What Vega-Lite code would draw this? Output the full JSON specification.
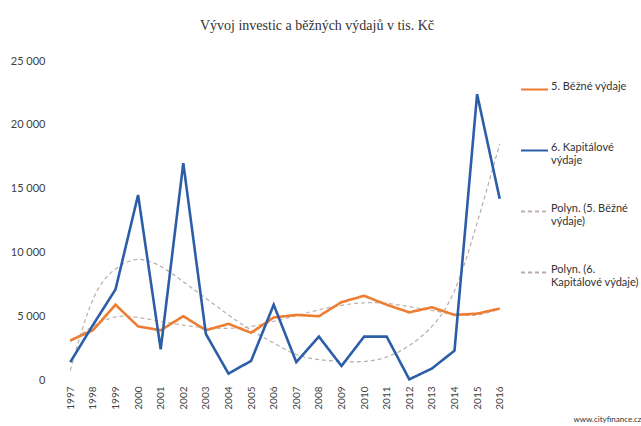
{
  "$schema": "https://vega.github.io/schema/vega-lite/v6.json",
  "width": 452,
  "height": 319,
  "autosize": {"type": "none"},
  "padding": {"left": 59, "top": 61, "right": 130, "bottom": 46},
  "background": "white",
  "config": {"view": {"stroke": null}, "font": "Lato"},
  "title": {
    "text": "Vývoj investic a běžných výdajů v tis. Kč",
    "font": "Liberation Serif",
    "fontSize": 14,
    "fontWeight": "normal",
    "color": "#333333",
    "anchor": "middle",
    "dx": 32,
    "offset": 22
  },
  "data": {
    "values": [
      {"year": 1997, "series": "5. Běžné výdaje", "value": 3100},
      {"year": 1998, "series": "5. Běžné výdaje", "value": 3900},
      {"year": 1999, "series": "5. Běžné výdaje", "value": 5900},
      {"year": 2000, "series": "5. Běžné výdaje", "value": 4200},
      {"year": 2001, "series": "5. Běžné výdaje", "value": 3900},
      {"year": 2002, "series": "5. Běžné výdaje", "value": 5000},
      {"year": 2003, "series": "5. Běžné výdaje", "value": 3900},
      {"year": 2004, "series": "5. Běžné výdaje", "value": 4400},
      {"year": 2005, "series": "5. Běžné výdaje", "value": 3700},
      {"year": 2006, "series": "5. Běžné výdaje", "value": 4900},
      {"year": 2007, "series": "5. Běžné výdaje", "value": 5100},
      {"year": 2008, "series": "5. Běžné výdaje", "value": 5000},
      {"year": 2009, "series": "5. Běžné výdaje", "value": 6100},
      {"year": 2010, "series": "5. Běžné výdaje", "value": 6600},
      {"year": 2011, "series": "5. Běžné výdaje", "value": 5900},
      {"year": 2012, "series": "5. Běžné výdaje", "value": 5300},
      {"year": 2013, "series": "5. Běžné výdaje", "value": 5700},
      {"year": 2014, "series": "5. Běžné výdaje", "value": 5100},
      {"year": 2015, "series": "5. Běžné výdaje", "value": 5200},
      {"year": 2016, "series": "5. Běžné výdaje", "value": 5600},
      {"year": 1997, "series": "6. Kapitálové výdaje", "value": 1400},
      {"year": 1998, "series": "6. Kapitálové výdaje", "value": 4300},
      {"year": 1999, "series": "6. Kapitálové výdaje", "value": 7100},
      {"year": 2000, "series": "6. Kapitálové výdaje", "value": 14500},
      {"year": 2001, "series": "6. Kapitálové výdaje", "value": 2400},
      {"year": 2002, "series": "6. Kapitálové výdaje", "value": 17000},
      {"year": 2003, "series": "6. Kapitálové výdaje", "value": 3600},
      {"year": 2004, "series": "6. Kapitálové výdaje", "value": 500},
      {"year": 2005, "series": "6. Kapitálové výdaje", "value": 1500},
      {"year": 2006, "series": "6. Kapitálové výdaje", "value": 5900},
      {"year": 2007, "series": "6. Kapitálové výdaje", "value": 1400},
      {"year": 2008, "series": "6. Kapitálové výdaje", "value": 3400},
      {"year": 2009, "series": "6. Kapitálové výdaje", "value": 1100},
      {"year": 2010, "series": "6. Kapitálové výdaje", "value": 3400},
      {"year": 2011, "series": "6. Kapitálové výdaje", "value": 3400},
      {"year": 2012, "series": "6. Kapitálové výdaje", "value": 50},
      {"year": 2013, "series": "6. Kapitálové výdaje", "value": 900},
      {"year": 2014, "series": "6. Kapitálové výdaje", "value": 2300},
      {"year": 2015, "series": "6. Kapitálové výdaje", "value": 22400},
      {"year": 2016, "series": "6. Kapitálové výdaje", "value": 14200},
      {"year": 1997, "series": "Polyn. (5. Běžné výdaje)", "value": 3000},
      {"year": 1998, "series": "Polyn. (5. Běžné výdaje)", "value": 4200},
      {"year": 1999, "series": "Polyn. (5. Běžné výdaje)", "value": 4950},
      {"year": 2000, "series": "Polyn. (5. Běžné výdaje)", "value": 4900},
      {"year": 2001, "series": "Polyn. (5. Běžné výdaje)", "value": 4600},
      {"year": 2002, "series": "Polyn. (5. Běžné výdaje)", "value": 4300},
      {"year": 2003, "series": "Polyn. (5. Běžné výdaje)", "value": 4100},
      {"year": 2004, "series": "Polyn. (5. Běžné výdaje)", "value": 4050},
      {"year": 2005, "series": "Polyn. (5. Běžné výdaje)", "value": 4200},
      {"year": 2006, "series": "Polyn. (5. Běžné výdaje)", "value": 4600},
      {"year": 2007, "series": "Polyn. (5. Běžné výdaje)", "value": 5050},
      {"year": 2008, "series": "Polyn. (5. Běžné výdaje)", "value": 5500},
      {"year": 2009, "series": "Polyn. (5. Běžné výdaje)", "value": 5850},
      {"year": 2010, "series": "Polyn. (5. Běžné výdaje)", "value": 6050},
      {"year": 2011, "series": "Polyn. (5. Běžné výdaje)", "value": 6000},
      {"year": 2012, "series": "Polyn. (5. Běžné výdaje)", "value": 5750},
      {"year": 2013, "series": "Polyn. (5. Běžné výdaje)", "value": 5450},
      {"year": 2014, "series": "Polyn. (5. Běžné výdaje)", "value": 5150},
      {"year": 2015, "series": "Polyn. (5. Běžné výdaje)", "value": 5100},
      {"year": 2016, "series": "Polyn. (5. Běžné výdaje)", "value": 5550},
      {"year": 1997, "series": "Polyn. (6. Kapitálové výdaje)", "value": 750},
      {"year": 1998, "series": "Polyn. (6. Kapitálové výdaje)", "value": 6300},
      {"year": 1999, "series": "Polyn. (6. Kapitálové výdaje)", "value": 8700},
      {"year": 2000, "series": "Polyn. (6. Kapitálové výdaje)", "value": 9450},
      {"year": 2001, "series": "Polyn. (6. Kapitálové výdaje)", "value": 8900},
      {"year": 2002, "series": "Polyn. (6. Kapitálové výdaje)", "value": 7700},
      {"year": 2003, "series": "Polyn. (6. Kapitálové výdaje)", "value": 6400},
      {"year": 2004, "series": "Polyn. (6. Kapitálové výdaje)", "value": 5100},
      {"year": 2005, "series": "Polyn. (6. Kapitálové výdaje)", "value": 3900},
      {"year": 2006, "series": "Polyn. (6. Kapitálové výdaje)", "value": 2900},
      {"year": 2007, "series": "Polyn. (6. Kapitálové výdaje)", "value": 2000},
      {"year": 2008, "series": "Polyn. (6. Kapitálové výdaje)", "value": 1600},
      {"year": 2009, "series": "Polyn. (6. Kapitálové výdaje)", "value": 1450},
      {"year": 2010, "series": "Polyn. (6. Kapitálové výdaje)", "value": 1450},
      {"year": 2011, "series": "Polyn. (6. Kapitálové výdaje)", "value": 1800},
      {"year": 2012, "series": "Polyn. (6. Kapitálové výdaje)", "value": 2700},
      {"year": 2013, "series": "Polyn. (6. Kapitálové výdaje)", "value": 4200},
      {"year": 2014, "series": "Polyn. (6. Kapitálové výdaje)", "value": 7000},
      {"year": 2015, "series": "Polyn. (6. Kapitálové výdaje)", "value": 12300},
      {"year": 2016, "series": "Polyn. (6. Kapitálové výdaje)", "value": 18500}
    ]
  },
  "encoding": {
    "x": {
      "field": "year",
      "type": "ordinal",
      "sort": "ascending",
      "axis": {
        "title": "www.cityfinance.cz",
        "titleFont": "Lato",
        "titleFontSize": 8,
        "titleFontWeight": "normal",
        "titleColor": "#333333",
        "titleAnchor": "end",
        "titleAlign": "right",
        "titleBaseline": "alphabetic",
        "titleX": 582,
        "titleY": 41,
        "labelAngle": 270,
        "labelAlign": "right",
        "labelBaseline": "middle",
        "labelFontSize": 10,
        "labelColor": "#404040",
        "labelPadding": 6,
        "domain": false,
        "ticks": false,
        "grid": false
      }
    },
    "y": {
      "field": "value",
      "type": "quantitative",
      "scale": {"domain": [0, 25000], "nice": false},
      "axis": {
        "title": null,
        "values": [0, 5000, 10000, 15000, 20000, 25000],
        "labelExpr": "replace(format(datum.value, ','), ',', ' ')",
        "labelFontSize": 11,
        "labelColor": "#404040",
        "labelPadding": 14,
        "domain": false,
        "ticks": false,
        "grid": false
      }
    },
    "color": {
      "field": "series",
      "type": "nominal",
      "scale": {
        "domain": ["5. Běžné výdaje", "6. Kapitálové výdaje", "Polyn. (5. Běžné výdaje)", "Polyn. (6. Kapitálové výdaje)"],
        "range": ["#ED7D31", "#2C5EA8", "#BDB3AE", "#B8ACAC"]
      },
      "legend": {
        "title": null,
        "orient": "right",
        "offset": -5,
        "padding": 14,
        "symbolType": "stroke",
        "symbolSize": 729,
        "symbolStrokeWidth": 2,
        "labelFontSize": 11,
        "labelColor": "#333333",
        "labelFont": "Lato",
        "labelOffset": 2,
        "labelLimit": 200,
        "labelBaseline": "alphabetic",
        "rowPadding": 31,
        "labelExpr": "datum.label == '6. Kapitálové výdaje' ? ['6. Kapitálové', 'výdaje'] : datum.label == 'Polyn. (5. Běžné výdaje)' ? ['Polyn. (5. Běžné', 'výdaje)'] : datum.label == 'Polyn. (6. Kapitálové výdaje)' ? ['Polyn. (6.', 'Kapitálové výdaje)'] : [datum.label, ' ']"
      }
    },
    "strokeDash": {
      "field": "series",
      "type": "nominal",
      "scale": {
        "domain": ["5. Běžné výdaje", "6. Kapitálové výdaje", "Polyn. (5. Běžné výdaje)", "Polyn. (6. Kapitálové výdaje)"],
        "range": [[1, 0], [1, 0], [4, 3], [4, 3]]
      },
      "legend": null
    }
  },
  "layer": [
    {
      "transform": [{"filter": "indexof(datum.series, 'Polyn.') == 0"}],
      "mark": {"type": "line", "strokeWidth": 1.2, "interpolate": "natural"}
    },
    {
      "transform": [{"filter": "indexof(datum.series, 'Polyn.') != 0"}],
      "mark": {"type": "line", "strokeWidth": 2.6, "interpolate": "linear"}
    }
  ]
}
